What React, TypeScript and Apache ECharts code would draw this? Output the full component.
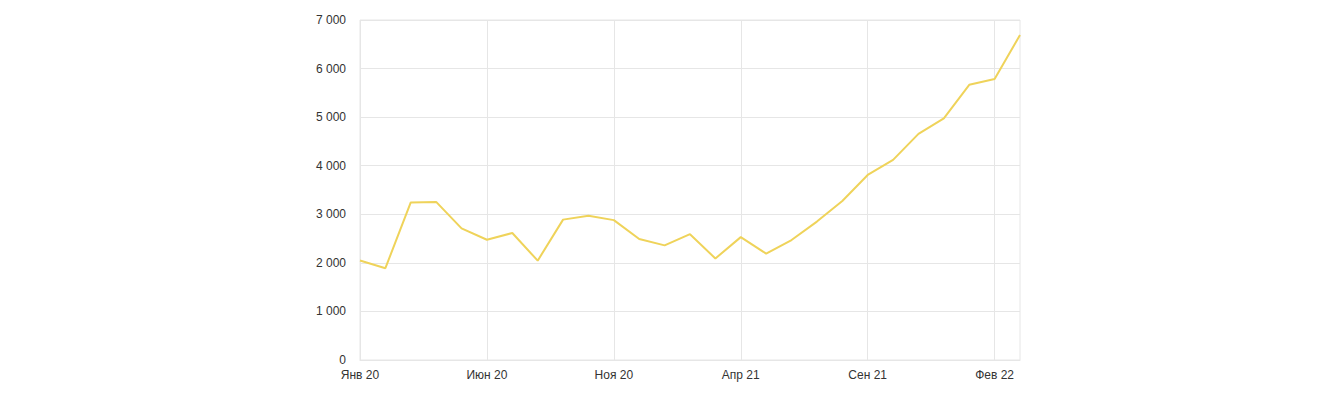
import React, { useEffect, useRef } from "react";
import * as echarts from "echarts";

const months = ["Янв", "Фев", "Мар", "Апр", "Май", "Июн", "Июл", "Авг", "Сен", "Окт", "Ноя", "Дек"];
const categories: string[] = [];
for (let y = 20; y <= 22; y++) {
  for (let m = 0; m < 12; m++) {
    if (y === 22 && m > 2) break;
    categories.push(`${months[m]} ${y}`);
  }
}

const values = [
  2050, 1890, 3245, 3255, 2710, 2475, 2615, 2045, 2890, 2970,
  2880, 2490, 2360, 2590, 2090, 2530, 2190, 2470, 2850, 3275,
  3810, 4120, 4655, 4975, 5665, 5785, 6690,
];

const yMin = 0;
const yMax = 7000;
const yStep = 1000;

const fmt = (v: number) => String(v).replace(/\B(?=(\d{3})+(?!\d))/g, " ");

export default function App() {
  const ref = useRef<HTMLDivElement>(null);
  useEffect(() => {
    if (!ref.current) return;
    const chart = echarts.init(ref.current, undefined, { renderer: "svg" });
    const textStyle = { color: "#333", fontFamily: "Liberation Sans, Arial, sans-serif", fontSize: 12 };
    chart.setOption({
      animation: false,
      grid: {
        left: 360,
        right: 320,
        top: 20,
        bottom: 35,
        show: true,
        borderColor: "#e6e6e6",
        borderWidth: 1,
      },
      xAxis: {
        type: "category",
        data: categories,
        boundaryGap: false,
        axisLine: { show: true, lineStyle: { color: "#e6e6e6" } },
        axisTick: { show: false },
        axisLabel: { ...textStyle, interval: 4, margin: 9 },
        splitLine: { show: true, interval: 4, lineStyle: { color: "#e6e6e6", width: 1 } },
      },
      yAxis: {
        type: "value",
        min: yMin,
        max: yMax,
        interval: yStep,
        axisLine: { show: false },
        axisTick: { show: false },
        axisLabel: { ...textStyle, margin: 14, formatter: (v: number) => fmt(v) },
        splitLine: { show: true, lineStyle: { color: "#e6e6e6", width: 1 } },
      },
      series: [
        {
          type: "line",
          data: values,
          symbol: "none",
          lineStyle: { color: "#efd35a", width: 2 },
        },
      ],
    });
    return () => chart.dispose();
  }, []);
  return (
    <div
      ref={ref}
      style={{ position: "fixed", left: 0, top: 0, width: 1340, height: 395, background: "#fff" }}
    />
  );
}
